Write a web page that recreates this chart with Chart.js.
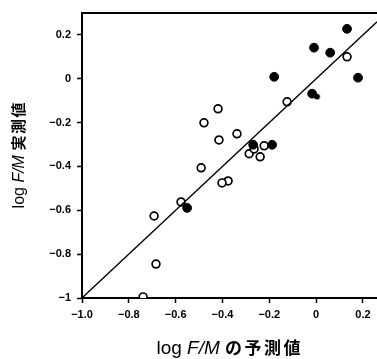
<!DOCTYPE html>
<html>
<head>
<meta charset="utf-8">
<script src="https://cdn.jsdelivr.net/npm/chart.js@4"></script>
<style>
html, body { margin: 0; padding: 0; background: #fff; }
#wrap { width: 377px; height: 359px; }
</style>
</head>
<body>
<div id="wrap"><canvas id="fm_chart"></canvas></div>
<script>
// tick labels
const xTickValues = [-1.0, -0.8, -0.6, -0.4, -0.2, 0, 0.2];
const xTickLabels = ['\u22121.0', '\u22120.8', '\u22120.6', '\u22120.4', '\u22120.2', '0', '0.2'];
const yTickValues = [-1, -0.8, -0.6, -0.4, -0.2, 0, 0.2];
const yTickLabels = ['\u22121', '\u22120.8', '\u22120.6', '\u22120.4', '\u22120.2', '0', '0.2'];

// open circles: predicted (x) / observed (y)
const predictedOpen = [0.132, -0.124, -0.419, -0.479, -0.338, -0.415, -0.222, -0.286, -0.265, -0.239, -0.491, -0.376, -0.402, -0.577, -0.692, -0.684, -0.739];
const observedOpen  = [0.100, -0.105, -0.137, -0.201, -0.251, -0.279, -0.306, -0.342, -0.320, -0.356, -0.406, -0.466, -0.475, -0.562, -0.626, -0.845, -0.995];

// filled circles
const predictedFilled = [0.132, -0.009, 0.060, -0.179, 0.179, -0.017, -0.269, -0.188, -0.551];
const observedFilled  = [0.228, 0.142, 0.119, 0.009, 0.005, -0.068, -0.301, -0.301, -0.589];

// small filled circle
const predictedSmall = [0.004];
const observedSmall  = [-0.082];

// y = x line
const lineX = [-1, 0.26];
const lineY = [-1, 0.26];

// axis titles: [text, italic, size, bold, letter gap]
const xTitleParts = [['log ', false, 19, false, 0], ['F/M', true, 19, false, 0], [' ', false, 19, false, 0], ['\u306E\u4E88\u6E2C\u5024', false, 17, true, 2.5]];
const yTitleParts = [['log ', false, 16, false, 0], ['F/M', true, 16, false, 0], [' ', false, 16, false, 0], ['\u5B9F\u6E2C\u5024', false, 15, true, 1.5]];

const toPoints = (xs, ys) => xs.map((x, i) => ({x: x, y: ys[i]}));

function drawParts(ctx, parts, cx, cy) {
    const fam = "'Liberation Sans', 'Noto Sans CJK JP', sans-serif";
    const fontOf = p => (p[1] ? 'italic ' : '') + (p[3] ? 'bold ' : '') + p[2] + 'px ' + fam;
    // measure each char so letter gaps can be added
    let total = 0;
    parts.forEach(p => {
        ctx.font = fontOf(p);
        const chars = p[4] ? Array.from(p[0]) : [p[0]];
        chars.forEach((c, j) => { total += ctx.measureText(c).width + (j < chars.length - 1 ? p[4] : 0); });
    });
    let x = cx - total / 2;
    ctx.fillStyle = '#000';
    ctx.textBaseline = 'middle';
    ctx.textAlign = 'left';
    parts.forEach(p => {
        ctx.font = fontOf(p);
        const chars = p[4] ? Array.from(p[0]) : [p[0]];
        chars.forEach((c, j) => {
            ctx.fillText(c, x, cy);
            x += ctx.measureText(c).width + (j < chars.length - 1 ? p[4] : 0);
        });
    });
}

const axisTitles = {
    id: 'axisTitles',
    afterDraw(chart) {
        const ctx = chart.ctx;
        const area = chart.chartArea;
        ctx.save();
        drawParts(ctx, xTitleParts, (area.left + area.right) / 2 - 1, 349);
        ctx.translate(20, (area.top + area.bottom) / 2);
        ctx.rotate(-Math.PI / 2);
        drawParts(ctx, yTitleParts, 0, 0);
        ctx.restore();
    }
};

const tickFont = {family: "'Liberation Sans', Arial, sans-serif", size: 11, weight: 'bold'};

const chart_data = {
    datasets: [
        {
            type: 'line',
            data: toPoints(lineX, lineY),
            borderColor: '#000',
            borderWidth: 1.3,
            pointRadius: 0,
            xAxisID: 'x',
            yAxisID: 'y'
        },
        {
            type: 'scatter',
            data: toPoints(predictedFilled, observedFilled),
            backgroundColor: '#000',
            borderColor: '#000',
            borderWidth: 1,
            pointRadius: 4.4,
            xAxisID: 'x',
            yAxisID: 'y'
        },
        {
            type: 'scatter',
            data: toPoints(predictedSmall, observedSmall),
            backgroundColor: '#000',
            borderColor: '#fff',
            borderWidth: 0.8,
            pointRadius: 3.3,
            xAxisID: 'x',
            yAxisID: 'y'
        },
        {
            type: 'scatter',
            data: toPoints(predictedOpen, observedOpen),
            backgroundColor: '#fff',
            borderColor: '#000',
            borderWidth: 1.7,
            pointRadius: 3.9,
            xAxisID: 'x',
            yAxisID: 'y'
        }
    ]
};

const config = {
    type: 'scatter',
    data: chart_data,
    plugins: [axisTitles],
    options: {
        responsive: true,
        maintainAspectRatio: false,
        animation: false,
        layout: { autoPadding: false, padding: {top: 13, right: 0, left: 0, bottom: 0} },
        plugins: { legend: {display: false}, tooltip: {enabled: false} },
        scales: {
            x: {
                type: 'linear',
                position: 'bottom',
                min: -1,
                max: 0.26,
                afterBuildTicks: s => { s.ticks = xTickValues.map(v => ({value: v})); },
                afterFit: s => { s.height = 61; s.paddingRight = 0; s.paddingLeft = 0; },
                ticks: {
                    callback: (v, i) => xTickLabels[i],
                    font: tickFont,
                    color: '#000',
                    padding: 5,
                    maxRotation: 0,
                    autoSkip: false
                },
                grid: { drawOnChartArea: false, tickLength: 5, tickWidth: 1.5, tickColor: '#000' },
                border: { color: '#000', width: 2 }
            },
            x2: {
                type: 'linear',
                position: 'top',
                min: -1,
                max: 0.26,
                afterFit: s => { s.height = 0; s.paddingRight = 0; s.paddingLeft = 0; },
                ticks: { display: false },
                grid: { drawOnChartArea: false, drawTicks: false },
                border: { color: '#000', width: 2 }
            },
            y: {
                type: 'linear',
                position: 'left',
                min: -1,
                max: 0.3,
                afterBuildTicks: s => { s.ticks = yTickValues.map(v => ({value: v})); },
                afterFit: s => { s.width = 82; s.paddingTop = 0; s.paddingBottom = 0; },
                ticks: {
                    callback: (v, i) => yTickLabels[i],
                    font: tickFont,
                    color: '#000',
                    padding: 6,
                    autoSkip: false
                },
                grid: { drawOnChartArea: false, tickLength: 5, tickWidth: 1.5, tickColor: '#000' },
                border: { color: '#000', width: 2 }
            }
        }
    }
};

const chart = new Chart(document.getElementById('fm_chart'), config);
</script>
</body>
</html>
